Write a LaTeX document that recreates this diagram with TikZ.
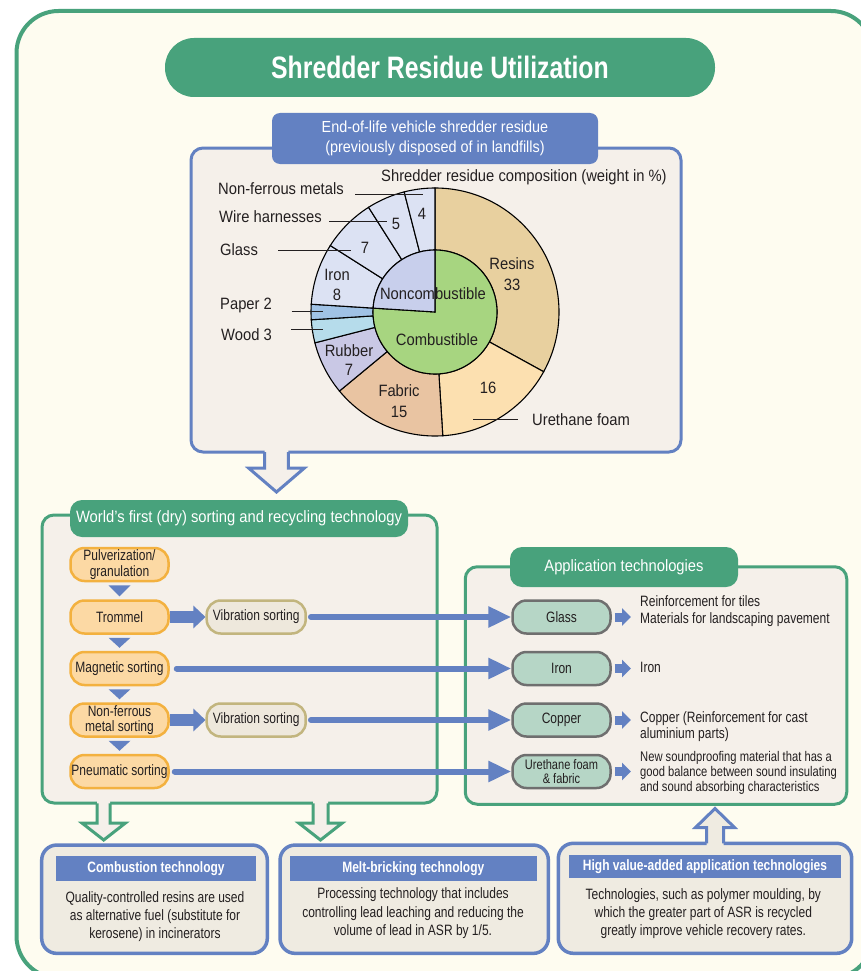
\documentclass[tikz,border=0pt]{standalone}
\usepackage{fontspec}
\setmainfont{Liberation Sans}
\newfontfamily\cond{Liberation Sans}[FakeStretch=0.8]
\newfontfamily\semi{Liberation Sans}[FakeStretch=0.9]
\usetikzlibrary{arrows.meta,calc}
\newcommand{\fsz}[2]{\fontsize{#1}{#2}\selectfont}
\definecolor{gr}{HTML}{48A27C}
\definecolor{bl}{HTML}{6381C2}
\definecolor{cream}{HTML}{FEFCF0}
\definecolor{panel}{HTML}{F5F0EA}
\definecolor{boxfill}{HTML}{EFEBE1}
\definecolor{orfill}{HTML}{FCD9A4}
\definecolor{ordraw}{HTML}{F3B13F}
\definecolor{vbfill}{HTML}{EEE8DC}
\definecolor{vbdraw}{HTML}{C2B57E}
\definecolor{apfill}{HTML}{B6D6C6}
\definecolor{apdraw}{HTML}{6F6F6F}
\definecolor{resin}{HTML}{E8D09F}
\definecolor{ureth}{HTML}{FCE0B0}
\definecolor{fabric}{HTML}{E9C4A2}
\definecolor{rubber}{HTML}{C9C8E5}
\definecolor{wood}{HTML}{B6DCEB}
\definecolor{paper}{HTML}{A0C2E5}
\definecolor{lightmet}{HTML}{DCE2F3}
\definecolor{noncomb}{HTML}{C8CFEC}
\definecolor{comb}{HTML}{A7D580}
\definecolor{txt}{HTML}{231F20}
\newcommand{\slice}[3]{\draw[fill=#3] (#1:124) arc[start angle=#1, end angle=#2, radius=124] -- (#2:62) arc[start angle=#2, end angle=#1, radius=62] -- cycle;}
% cx, yborder, half shaft, half head, y head base, y tip, stroke, fill, y fill start
\newcommand{\hollow}[9]{%
 \fill[#8] ({#1-#3},#9) -- ({#1-#3},#5) -- ({#1-#4},#5) -- (#1,#6) -- ({#1+#4},#5) -- ({#1+#3},#5) -- ({#1+#3},#9) -- cycle;
 \draw[#7, line width=3, line join=miter] ({#1-#3},#2) -- ({#1-#3},#5) -- ({#1-#4},#5) -- (#1,#6) -- ({#1+#4},#5) -- ({#1+#3},#5) -- ({#1+#3},#2);}
\tikzset{
 titlebox/.style={fill=gr, text=white, rounded corners=29, minimum width=550, minimum height=59, inner sep=0, font=\cond\bfseries\fsz{31}{36}},
 panelbox/.style={rectangle, line width=3, fill=panel, rounded corners=12, inner sep=0},
 bluehead/.style={fill=bl, text=white, rounded corners=8, inner sep=0, align=center, font=\semi\fsz{16}{20}},
 greenhead/.style={fill=gr, text=white, rounded corners=12, inner sep=0, font=\semi\fsz{16.4}{20}},
 pill/.style={line width=2.5, rounded corners=14, minimum width=98, minimum height=33, inner sep=0, align=center, text=txt, font=\cond\fsz{15}{15.5}},
 orangenode/.style={pill, draw=ordraw, fill=orfill},
 vibnode/.style={pill, draw=vbdraw, fill=vbfill, minimum width=99},
 appnode/.style={pill, draw=apdraw, fill=apfill},
 apptext/.style={anchor=west, inner sep=0, align=left, text=txt, font=\cond\fsz{15}{17}},
 piel/.style={inner sep=0, align=center, text=txt, font=\semi\fsz{16.4}{20.5}},
 leader/.style={line width=0.9, txt},
 botbox/.style={draw=bl, line width=3.5, fill=boxfill, rounded corners=15, inner sep=0},
 bothead/.style={fill=bl, text=white, inner sep=0, font=\cond\bfseries\fsz{15}{18}},
 bottext/.style={inner sep=0, align=center, text=txt, font=\cond\fsz{15}{18.3}},
 bigarrow/.style={bl, line width=12, -{Triangle[length=12pt 0, width=22pt 0]}},
 longarrow/.style={bl, line width=6, -{Triangle[length=23pt 0, width=20pt 0]}},
 smallarrow/.style={bl, line width=9, -{Triangle[length=9pt 0, width=17pt 0]}},
}
\begin{document}
\begin{tikzpicture}[x=1pt,y=-1pt]
\useasboundingbox (0,0) rectangle (861,971);
\clip (0,0) rectangle (861,971);
\fill[white] (0,0) rectangle (861,971);
\draw[gr, line width=4, fill=cream, rounded corners=42] (16.5,11) rectangle (873,978);

% title
\node[titlebox] (title) at (440,67.5) {Shredder Residue Utilization};

% top panel
\node[panelbox, draw=bl, minimum width=490, minimum height=304] (toppanel) at (436,300) {};
\node[bluehead, minimum width=326, minimum height=51] (tophead) at (435,138.5) {End-of-life vehicle shredder residue\\(previously disposed of in landfills)};

% pie
\begin{scope}[shift={(435,312)}, yscale=-1, line width=1.1]
 \slice{90}{-28.8}{resin}
 \slice{-28.8}{-86.4}{ureth}
 \slice{-86.4}{-140.4}{fabric}
 \slice{-140.4}{-165.6}{rubber}
 \slice{-165.6}{-176.4}{wood}
 \slice{-176.4}{-183.6}{paper}
 \slice{-183.6}{-212.4}{lightmet}
 \slice{-212.4}{-237.6}{lightmet}
 \slice{-237.6}{-255.6}{lightmet}
 \slice{-255.6}{-270}{lightmet}
 \draw[fill=comb] (0,0) -- (176.4:62) arc[start angle=176.4, end angle=450, radius=62] -- cycle;
 \draw[fill=noncomb] (0,0) -- (90:62) arc[start angle=90, end angle=176.4, radius=62] -- cycle;
\end{scope}
\node[piel] (lres) at (512,274) {Resins\\33};
\node[piel] (l16) at (488,388) {16};
\node[piel] (lfab) at (399,401) {Fabric\\15};
\node[piel, font=\semi\fsz{16.4}{19.5}] (lrub) at (349,360) {Rubber\\7};
\node[piel, font=\semi\fsz{16.4}{20}] (liron) at (337,285) {Iron\\8};
\node[piel] (lg7) at (365,247.5) {7};
\node[piel] (lw5) at (396,224) {5};
\node[piel] (ln4) at (422,213.5) {4};
\node[piel] (lnonc) at (433,293.5) {Noncombustible};
\node[piel] (lcomb) at (437,339.5) {Combustible};
\node[piel, anchor=west] (src) at (381,177) {Shredder residue composition (weight in \%)};
\node[piel, anchor=west] (nfm) at (218,189) {Non-ferrous metals};
\node[piel, anchor=west] (wh) at (219,217) {Wire harnesses};
\node[piel, anchor=west] (gl) at (220,250) {Glass};
\node[piel, anchor=west] (pp) at (220,305) {Paper 2};
\node[piel, anchor=west] (wd) at (221,335) {Wood 3};
\node[piel, anchor=west] (uf) at (532,420) {Urethane foam};
\coordinate (a1) at (355,194.3); \coordinate (b1) at (422.7,194.3);
\coordinate (a2) at (329.3,221.7); \coordinate (b2) at (386.7,221.7);
\coordinate (a3) at (278.3,250.7); \coordinate (b3) at (351,250.7);
\coordinate (a4) at (291.7,311.7); \coordinate (b4) at (323.3,311.7);
\coordinate (a5) at (291,329); \coordinate (b5) at (323.3,329);
\coordinate (a6) at (473.3,419); \coordinate (b6) at (518.3,419);
\foreach \i in {1,...,6} {\draw[leader] (a\i) -- (b\i);}

% left panel
\node[panelbox, draw=gr, minimum width=395, minimum height=288] (leftpanel) at (239.5,659) {};
\hollow{276.5}{452}{11.8}{27.7}{468.2}{492}{bl}{panel}{449.5}
\node[greenhead, minimum width=338, minimum height=37] (lefthead) at (239,518.5) {World’s first (dry) sorting and recycling technology};

\node[orangenode] (pulv) at (119.5,564.5) {Pulverization/\\granulation};
\node[orangenode] (trom) at (119.5,617) {Trommel};
\node[orangenode] (magn) at (119.5,668.5) {Magnetic sorting};
\node[orangenode] (nonf) at (119.5,720) {Non-ferrous\\metal sorting};
\node[orangenode] (pneu) at (119.5,771.5) {Pneumatic sorting};
\foreach \a/\b in {pulv/trom, trom/magn, magn/nonf, nonf/pneu}
 {\fill[bl] ($(\a.south)+(-11,3)$) -- ($(\a.south)+(11,3)$) -- ($(\b.north)+(0,-3)$) -- cycle;}
\node[vibnode] (vib1) at (256.2,617) {Vibration sorting};
\node[vibnode] (vib2) at (256.2,720) {Vibration sorting};
\draw[bigarrow] (trom.east) -- (vib1.west);
\draw[bigarrow] (nonf.east) -- (vib2.west);

% right panel
\node[panelbox, draw=gr, minimum width=381.5, minimum height=237.5] (rightpanel) at (656,685.5) {};
\node[greenhead, minimum width=228, minimum height=40] (righthead) at (624,567) {Application technologies};
\node[appnode] (glassA) at (561.5,617) {Glass};
\node[appnode] (ironA) at (561.5,668.5) {Iron};
\node[appnode] (copA) at (561.5,720) {Copper};
\node[appnode, font=\cond\fsz{13.8}{14.3}] (uretA) at (561.5,771.5) {Urethane foam\\\& fabric};
\node[apptext] (t1) at (640,611.3) {Reinforcement for tiles\\Materials for landscaping pavement};
\node[apptext] (t2) at (640,667.5) {Iron};
\node[apptext, font=\cond\fsz{15}{16.7}] (t3) at (640,726.7) {Copper (Reinforcement for cast\\aluminium parts)};
\node[apptext, font=\cond\fsz{14}{15}] (t4) at (640,773.3) {New soundproofing material that has a\\good balance between sound insulating\\and sound absorbing characteristics};
\foreach \n/\t in {glassA/t1, ironA/t2, copA/t3, uretA/t4}
 {\draw[smallarrow, shorten <=3, shorten >=9] (\n.east) -- (\n.east -| \t.west);}

% long connectors
\draw[longarrow, line cap=round, shorten <=4] (vib1.east) -- (glassA.west);
\draw[longarrow, line cap=round, shorten <=7] (magn.east) -- (ironA.west);
\draw[longarrow, line cap=round, shorten <=4] (vib2.east) -- (copA.west);
\draw[longarrow, line cap=round, shorten <=5] (pneu.east) -- (uretA.west);

% hollow arrows down
\hollow{103.7}{803.3}{6.5}{21.5}{823.2}{840}{gr}{panel}{801}
\hollow{320.5}{803.3}{7.5}{21.5}{823.2}{840}{gr}{panel}{801}

% bottom boxes
\node[botbox, minimum width=225.6, minimum height=108.3] (box1) at (154.5,899.2) {};
\node[bothead, minimum width=200, minimum height=24.7] (h1) at (156,868.3) {Combustion technology};
\node[bottext] (bt1) at (155,916.7) {Quality-controlled resins are used\\as alternative fuel (substitute for\\kerosene) in incinerators};
\node[botbox, minimum width=268.3, minimum height=108.3] (box2) at (414.2,899.2) {};
\node[bothead, minimum width=246.7, minimum height=24.7] (h2) at (413.3,868.3) {Melt-bricking technology};
\node[bottext] (bt2) at (413,913.3) {Processing technology that includes\\controlling lead leaching and reducing the\\volume of lead in ASR by 1/5.};
\node[botbox, minimum width=293.4, minimum height=110] (box3) at (705,898.3) {};
\node[bothead, minimum width=271.4, minimum height=23.3] (h3) at (705,866.7) {High value-added application technologies};
\node[bottext] (bt3) at (703.3,913.7) {Technologies, such as polymer moulding, by\\which the greater part of ASR is recycled\\greatly improve vehicle recovery rates.};
\hollow{715}{843.3}{8.5}{19.5}{827.5}{808.5}{bl}{boxfill}{846}
\end{tikzpicture}
\end{document}
